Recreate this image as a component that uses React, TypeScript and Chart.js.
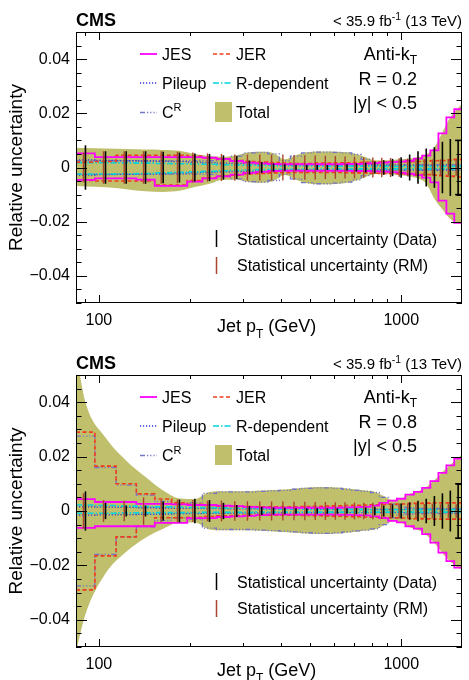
import React, { useEffect, useRef } from "react";
import { Chart, registerables } from "chart.js";

Chart.register(...registerables);

const FONT = "'Liberation Sans', Arial, Helvetica, sans-serif";
Chart.defaults.font.family = FONT;
Chart.defaults.color = "#000";

// ---------- binning / axes ----------
const BIN_EDGES = [84, 97, 114, 133, 153, 174, 196, 220, 245, 272, 300, 330, 362, 395, 430, 468, 507, 548, 592, 638, 686, 737, 790, 846, 905, 967, 1032, 1101, 1172, 1248, 1327, 1410, 1497, 1588];
const X_TICKS = [90, 100, 200, 300, 400, 500, 600, 700, 800, 900, 1000];
const X_LABELED = [100, 1000];
const Y_MIN = -0.05;
const Y_MAX = 0.05;
const Y_STEP = 0.005;

// ---------- R = 0.2 ----------
const JES_UP_R02 = [0.0052, 0.0038, 0.0038, 0.0038, 0.0038, 0.0038, 0.0038, 0.0036, 0.0032, 0.0024, 0.0018, 0.0015, 0.0013, 0.0012, 0.0012, 0.0012, 0.0012, 0.0012, 0.0012, 0.0013, 0.0013, 0.0014, 0.0016, 0.0018, 0.002, 0.0022, 0.0025, 0.0033, 0.0044, 0.0063, 0.0126, 0.0185, 0.0215];
const JES_DN_R02 = [-0.0046, -0.004, -0.004, -0.0045, -0.0068, -0.0068, -0.0052, -0.004, -0.0033, -0.0026, -0.002, -0.0016, -0.0013, -0.0012, -0.0012, -0.0012, -0.0012, -0.0012, -0.0012, -0.0012, -0.0013, -0.0013, -0.0014, -0.0015, -0.0017, -0.0019, -0.0023, -0.0028, -0.0037, -0.0055, -0.0122, -0.017, -0.0204];
const JER_UP_R02 = [0.002, 0.0022, 0.0045, 0.0045, 0.0045, 0.0045, 0.0042, 0.0036, 0.003, 0.0026, 0.0022, 0.002, 0.0018, 0.0016, 0.0015, 0.0015, 0.0016, 0.0016, 0.0017, 0.0017, 0.0018, 0.0019, 0.002, 0.002, 0.002, 0.0021, 0.0021, 0.0022, 0.0023, 0.0025, 0.0026, 0.0028, 0.003];
const JER_DN_R02 = [-0.0048, -0.005, -0.005, -0.005, -0.0065, -0.0065, -0.0048, -0.0038, -0.0032, -0.0028, -0.0024, -0.0022, -0.002, -0.0019, -0.0018, -0.0018, -0.0018, -0.0018, -0.0018, -0.0019, -0.002, -0.002, -0.0021, -0.0022, -0.0022, -0.0023, -0.0024, -0.0025, -0.0026, -0.0028, -0.003, -0.0032, -0.0035];
const PU_UP_R02 = [0.0028, 0.0026, 0.0025, 0.0024, 0.0023, 0.0022, 0.002, 0.0018, 0.0016, 0.0015, 0.0014, 0.0013, 0.0012, 0.0011, 0.001, 0.001, 0.001, 0.001, 0.001, 0.001, 0.001, 0.001, 0.0009, 0.0009, 0.0009, 0.0009, 0.0009, 0.0009, 0.0009, 0.0009, 0.0009, 0.0009, 0.0009];
const PU_DN_R02 = [-0.0028, -0.0026, -0.0025, -0.0024, -0.0023, -0.0022, -0.002, -0.0018, -0.0016, -0.0015, -0.0014, -0.0013, -0.0012, -0.0011, -0.001, -0.001, -0.001, -0.001, -0.001, -0.001, -0.001, -0.001, -0.0009, -0.0009, -0.0009, -0.0009, -0.0009, -0.0009, -0.0009, -0.0009, -0.0009, -0.0009, -0.0009];
const RDEP_UP_R02 = [0.0018, 0.0018, 0.0017, 0.0016, 0.0015, 0.0014, 0.0013, 0.0012, 0.001, 0.0009, 0.0008, 0.0007, 0.0007, 0.0006, 0.0006, 0.0006, 0.0005, 0.0005, 0.0005, 0.0005, 0.0005, 0.0005, 0.0004, 0.0004, 0.0004, 0.0004, 0.0004, 0.0004, 0.0004, 0.0004, 0.0004, 0.0004, 0.0004];
const RDEP_DN_R02 = [-0.0024, -0.0024, -0.0023, -0.0022, -0.002, -0.0018, -0.0016, -0.0014, -0.0012, -0.001, -0.0009, -0.0008, -0.0008, -0.0007, -0.0007, -0.0007, -0.0006, -0.0006, -0.0006, -0.0006, -0.0005, -0.0005, -0.0005, -0.0005, -0.0005, -0.0005, -0.0005, -0.0005, -0.0005, -0.0005, -0.0005, -0.0005, -0.0005];
const CR_UP_R02 = [0.0025, 0.0025, 0.0025, 0.0025, 0.0025, 0.0025, 0.0025, 0.0025, 0.003, 0.0042, 0.0054, 0.0056, 0.005, 0.0025, 0.0042, 0.0054, 0.0057, 0.0057, 0.0056, 0.0054, 0.0048, 0.003, 0.0012, 0.001, 0.001, 0.001, 0.001, 0.001, 0.001, 0.001, 0.001, 0.001, 0.001];
const CR_DN_R02 = [-0.0025, -0.0025, -0.0025, -0.0025, -0.0025, -0.0025, -0.0025, -0.0025, -0.003, -0.0042, -0.0052, -0.0054, -0.0048, -0.0025, -0.0042, -0.0056, -0.006, -0.006, -0.0058, -0.0054, -0.0046, -0.003, -0.0012, -0.001, -0.001, -0.001, -0.001, -0.001, -0.001, -0.001, -0.001, -0.001, -0.001];
// total band: left edge, 33 bin centres, right edge
const TOTAL_UP_R02 = [0.0073, 0.0072, 0.007, 0.0068, 0.0066, 0.0065, 0.0062, 0.005, 0.0042, 0.0039, 0.0045, 0.0056, 0.0058, 0.0053, 0.003, 0.0045, 0.0056, 0.0059, 0.0059, 0.0058, 0.0056, 0.005, 0.0038, 0.0027, 0.0026, 0.0028, 0.003, 0.0033, 0.0038, 0.0048, 0.0075, 0.013, 0.0185, 0.022, 0.0235];
const TOTAL_DN_R02 = [-0.0068, -0.007, -0.0073, -0.008, -0.0088, -0.009, -0.0086, -0.0072, -0.006, -0.0045, -0.0045, -0.0054, -0.0056, -0.005, -0.0028, -0.0045, -0.0058, -0.0062, -0.0062, -0.006, -0.0056, -0.0048, -0.0035, -0.0025, -0.0025, -0.0026, -0.0029, -0.0033, -0.004, -0.006, -0.0115, -0.0155, -0.019, -0.0205, -0.021];
const STAT_DATA_R02 = [0.0082, 0.006, 0.006, 0.006, 0.0058, 0.0055, 0.0052, 0.005, 0.0045, 0.0042, 0.0026, 0.002, 0.0015, 0.0012, 0.001, 0.0009, 0.0009, 0.0009, 0.001, 0.0012, 0.0015, 0.0018, 0.0022, 0.0027, 0.0032, 0.0038, 0.0048, 0.006, 0.007, 0.0075, 0.0095, 0.0105, 0.01];
const STAT_RM_R02 = [0.0055, 0.006, 0.006, 0.006, 0.006, 0.0058, 0.0055, 0.0052, 0.005, 0.0048, 0.0048, 0.0048, 0.0048, 0.0048, 0.0046, 0.0045, 0.0044, 0.0043, 0.0042, 0.0041, 0.004, 0.0038, 0.0037, 0.0036, 0.0035, 0.0034, 0.0033, 0.0032, 0.0031, 0.003, 0.003, 0.003, 0.003];

// ---------- R = 0.8 ----------
const JES_UP_R08 = [0.0044, 0.0033, 0.0033, 0.0026, 0.0026, 0.0024, 0.0022, 0.0022, 0.002, 0.0018, 0.0015, 0.0013, 0.0012, 0.0012, 0.0012, 0.0012, 0.0012, 0.0012, 0.0012, 0.0013, 0.0014, 0.0015, 0.002, 0.003, 0.0038, 0.0045, 0.006, 0.007, 0.0085, 0.011, 0.014, 0.0168, 0.0193];
const JES_DN_R08 = [-0.0062, -0.0056, -0.0056, -0.0056, -0.0044, -0.0044, -0.0026, -0.0026, -0.0022, -0.002, -0.0018, -0.0015, -0.0013, -0.0013, -0.0013, -0.0013, -0.0013, -0.0013, -0.0013, -0.0014, -0.0015, -0.0016, -0.002, -0.0026, -0.0036, -0.0042, -0.0056, -0.0065, -0.0085, -0.0116, -0.0153, -0.0184, -0.0208];
const JER_UP_R08 = [0.029, 0.0165, 0.01, 0.0063, 0.0044, 0.003, 0.0025, 0.002, 0.0018, 0.0017, 0.0016, 0.0015, 0.0015, 0.0015, 0.0015, 0.0016, 0.0017, 0.0018, 0.0019, 0.002, 0.0021, 0.0022, 0.0023, 0.0024, 0.0025, 0.0026, 0.0027, 0.0028, 0.0029, 0.003, 0.003, 0.003, 0.003];
const JER_DN_R08 = [-0.029, -0.0165, -0.0095, -0.0055, -0.0025, -0.0025, -0.0023, -0.002, -0.0018, -0.0017, -0.0016, -0.0015, -0.0015, -0.0015, -0.0015, -0.0016, -0.0017, -0.0018, -0.0019, -0.002, -0.0021, -0.0022, -0.0023, -0.0024, -0.0025, -0.0026, -0.0027, -0.0028, -0.0029, -0.003, -0.003, -0.003, -0.003];
const PU_UP_R08 = [0.0015, 0.0014, 0.0013, 0.0012, 0.0011, 0.001, 0.001, 0.0009, 0.0009, 0.0008, 0.0008, 0.0008, 0.0007, 0.0007, 0.0007, 0.0007, 0.0007, 0.0007, 0.0006, 0.0006, 0.0006, 0.0006, 0.0006, 0.0006, 0.0006, 0.0006, 0.0006, 0.0006, 0.0006, 0.0006, 0.0006, 0.0006, 0.0006];
const PU_DN_R08 = [-0.0015, -0.0014, -0.0013, -0.0012, -0.0011, -0.001, -0.001, -0.0009, -0.0009, -0.0008, -0.0008, -0.0008, -0.0007, -0.0007, -0.0007, -0.0007, -0.0007, -0.0007, -0.0006, -0.0006, -0.0006, -0.0006, -0.0006, -0.0006, -0.0006, -0.0006, -0.0006, -0.0006, -0.0006, -0.0006, -0.0006, -0.0006, -0.0006];
const RDEP_UP_R08 = [0.0022, 0.002, 0.0018, 0.0016, 0.0015, 0.0014, 0.0013, 0.0012, 0.0011, 0.001, 0.0009, 0.0008, 0.0008, 0.0007, 0.0007, 0.0007, 0.0006, 0.0006, 0.0006, 0.0006, 0.0006, 0.0005, 0.0005, 0.0005, 0.0005, 0.0005, 0.0005, 0.0005, 0.0005, 0.0005, 0.0005, 0.0005, 0.0005];
const RDEP_DN_R08 = [-0.0008, -0.0008, -0.0007, -0.0007, -0.0006, -0.0006, -0.0006, -0.0005, -0.0005, -0.0005, -0.0005, -0.0004, -0.0004, -0.0004, -0.0004, -0.0004, -0.0004, -0.0004, -0.0004, -0.0004, -0.0004, -0.0004, -0.0004, -0.0004, -0.0004, -0.0004, -0.0004, -0.0004, -0.0004, -0.0004, -0.0004, -0.0004, -0.0004];
const CR_UP_R08 = [0.0275, 0.016, 0.0095, 0.0058, 0.0035, 0.0025, 0.003, 0.0065, 0.007, 0.007, 0.007, 0.0072, 0.0074, 0.0076, 0.008, 0.0083, 0.0085, 0.0085, 0.0083, 0.008, 0.0076, 0.0072, 0.0068, 0.005, 0.0025, 0.0015, 0.0012, 0.001, 0.001, 0.001, 0.001, 0.001, 0.001];
const CR_DN_R08 = [-0.0275, -0.016, -0.0095, -0.0058, -0.0035, -0.0025, -0.003, -0.0063, -0.0068, -0.0068, -0.0068, -0.007, -0.0072, -0.0074, -0.0077, -0.008, -0.0082, -0.0082, -0.008, -0.0077, -0.0073, -0.007, -0.0066, -0.005, -0.0025, -0.0015, -0.0012, -0.001, -0.001, -0.001, -0.001, -0.001, -0.001];
const TOTAL_UP_R08 = [0.058, 0.04, 0.027, 0.0185, 0.0125, 0.0075, 0.0046, 0.0044, 0.007, 0.0073, 0.0073, 0.0073, 0.0075, 0.0077, 0.0079, 0.0083, 0.0086, 0.0088, 0.0088, 0.0086, 0.0083, 0.0079, 0.0075, 0.007, 0.0055, 0.004, 0.0045, 0.0063, 0.0072, 0.0088, 0.0113, 0.0143, 0.017, 0.0195, 0.021];
const TOTAL_DN_R08 = [-0.052, -0.038, -0.023, -0.015, -0.0098, -0.0065, -0.0042, -0.0042, -0.0068, -0.0071, -0.0071, -0.0071, -0.0073, -0.0075, -0.0077, -0.008, -0.0083, -0.0085, -0.0085, -0.0083, -0.008, -0.0076, -0.0072, -0.0068, -0.0053, -0.0038, -0.0043, -0.006, -0.007, -0.0088, -0.0118, -0.0155, -0.0186, -0.021, -0.0215];
const STAT_DATA_R08 = [0.0072, 0.003, 0.002, 0.002, 0.0035, 0.0042, 0.0045, 0.004, 0.003, 0.0022, 0.0018, 0.0015, 0.0013, 0.0012, 0.001, 0.001, 0.001, 0.001, 0.001, 0.001, 0.0011, 0.0013, 0.0016, 0.002, 0.0024, 0.0028, 0.0032, 0.0038, 0.0045, 0.0055, 0.0065, 0.0075, 0.01];
const STAT_RM_R08 = [0.0065, 0.004, 0.0038, 0.005, 0.004, 0.0042, 0.004, 0.0038, 0.0038, 0.0036, 0.0036, 0.0035, 0.0035, 0.0035, 0.0034, 0.0034, 0.0033, 0.0033, 0.0032, 0.0032, 0.0031, 0.003, 0.003, 0.0029, 0.0028, 0.0028, 0.0027, 0.0027, 0.0026, 0.0026, 0.0025, 0.0025, 0.0025];

// ---------- style ----------
const COLORS = {
  jes: "#ff00ff",
  jer: "#f03c1e",
  pu: "#3434d4",
  rdep: "#00d4dc",
  cr: "#7474c4",
  total: "rgb(191,191,108)",
  data: "#000000",
  rm: "#a8452c",
};
const DASH = {
  jes: [] as number[],
  jer: [4, 2.5],
  pu: [1.2, 1.8],
  rdep: [6, 2, 1.5, 2],
  cr: [5, 2, 1.2, 2, 1.2, 2, 1.2, 2],
};
const WIDTH = { jes: 1.8, jer: 1.6, pu: 1.3, rdep: 1.6, cr: 1.3 };
const RM_SHIFT = 0.985;

const BIN_CENTERS = BIN_EDGES.slice(0, -1).map((lo, i) => Math.sqrt(lo * BIN_EDGES[i + 1]));
const BAND_X = [BIN_EDGES[0], ...BIN_CENTERS, BIN_EDGES[BIN_EDGES.length - 1]];

type Pt = { x: number; y: number };
function stepPoints(vals: number[]): Pt[] {
  const pts: Pt[] = [];
  vals.forEach((v, i) => {
    pts.push({ x: BIN_EDGES[i], y: v });
    pts.push({ x: BIN_EDGES[i + 1], y: v });
  });
  return pts;
}
function bandPoints(vals: number[]): Pt[] {
  return vals.map((v, i) => ({ x: BAND_X[i], y: v }));
}

const PANELS = [
  {
    key: "r02", radius: "R = 0.2", top: 0, height: 343, plotBottom: 303,
    jes: [JES_UP_R02, JES_DN_R02], jer: [JER_UP_R02, JER_DN_R02], pu: [PU_UP_R02, PU_DN_R02],
    rdep: [RDEP_UP_R02, RDEP_DN_R02], cr: [CR_UP_R02, CR_DN_R02],
    total: [TOTAL_UP_R02, TOTAL_DN_R02], statData: STAT_DATA_R02, statRM: STAT_RM_R02,
  },
  {
    key: "r08", radius: "R = 0.8", top: 343, height: 337, plotBottom: 304,
    jes: [JES_UP_R08, JES_DN_R08], jer: [JER_UP_R08, JER_DN_R08], pu: [PU_UP_R08, PU_DN_R08],
    rdep: [RDEP_UP_R08, RDEP_DN_R08], cr: [CR_UP_R08, CR_DN_R08],
    total: [TOTAL_UP_R08, TOTAL_DN_R08], statData: STAT_DATA_R08, statRM: STAT_RM_R08,
  },
];

type Part = [string, number, number?, string?];
function rich(ctx: CanvasRenderingContext2D, parts: Part[], x: number, y: number, align: "left" | "right" | "center") {
  ctx.textAlign = "left";
  ctx.textBaseline = "alphabetic";
  const widths = parts.map(([t, size, , weight]) => {
    ctx.font = `${weight || "normal"} ${size}px ${FONT}`;
    return ctx.measureText(t).width;
  });
  const total = widths.reduce((a, b) => a + b, 0);
  let cx = align === "right" ? x - total : align === "center" ? x - total / 2 : x;
  parts.forEach(([t, size, dy, weight], i) => {
    ctx.font = `${weight || "normal"} ${size}px ${FONT}`;
    ctx.fillText(t, cx, y + (dy || 0));
    cx += widths[i];
  });
}

function legendLine(ctx: CanvasRenderingContext2D, x1: number, x2: number, y: number, key: keyof typeof DASH) {
  ctx.save();
  ctx.strokeStyle = (COLORS as any)[key];
  ctx.lineWidth = (WIDTH as any)[key];
  ctx.setLineDash(DASH[key]);
  ctx.beginPath();
  ctx.moveTo(x1, y);
  ctx.lineTo(x2, y);
  ctx.stroke();
  ctx.restore();
}

function makeDecor(p: (typeof PANELS)[number]) {
  return {
    id: "decor_" + p.key,
    afterDatasetsDraw(chart: any) {
      const { ctx, chartArea: a } = chart;
      const xs = chart.scales.x;
      const ys = chart.scales.y;
      ctx.save();
      ctx.beginPath();
      ctx.rect(a.left, a.top, a.right - a.left, a.bottom - a.top);
      ctx.clip();
      ctx.setLineDash([]);
      const bars = (vals: number[], shift: number, color: string, w: number) => {
        ctx.strokeStyle = color;
        ctx.lineWidth = w;
        vals.forEach((s, i) => {
          const px = xs.getPixelForValue(BIN_CENTERS[i] * shift);
          ctx.beginPath();
          ctx.moveTo(px, ys.getPixelForValue(-s));
          ctx.lineTo(px, ys.getPixelForValue(s));
          ctx.stroke();
        });
      };
      bars(p.statRM, RM_SHIFT, COLORS.rm, 1.4);
      bars(p.statData, 1, COLORS.data, 1.6);
      // end caps on the last data bar
      const li = p.statData.length - 1;
      const lx = xs.getPixelForValue(BIN_CENTERS[li]);
      [p.statData[li], -p.statData[li]].forEach((s) => {
        const py = ys.getPixelForValue(s);
        ctx.beginPath();
        ctx.moveTo(lx - 3, py);
        ctx.lineTo(lx + 3, py);
        ctx.stroke();
      });
      ctx.restore();
    },
    afterDraw(chart: any) {
      const { ctx, chartArea: a } = chart;
      const xs = chart.scales.x;
      const ys = chart.scales.y;
      ctx.save();
      ctx.setLineDash([]);
      ctx.strokeStyle = "#000";
      ctx.fillStyle = "#000";
      ctx.lineWidth = 1;
      // frame
      ctx.strokeRect(a.left + 0.5, a.top + 0.5, a.right - a.left - 1, a.bottom - a.top - 1);
      // y ticks (inward, both sides)
      ys.ticks.forEach((t: any) => {
        const m = Math.round(t.value * 1000);
        const len = m % 20 === 0 ? 11 : 5.5;
        const py = Math.round(ys.getPixelForValue(t.value)) + 0.5;
        ctx.beginPath();
        ctx.moveTo(a.left, py);
        ctx.lineTo(a.left + len, py);
        ctx.moveTo(a.right, py);
        ctx.lineTo(a.right - len, py);
        ctx.stroke();
      });
      // x ticks (inward, both sides)
      xs.ticks.forEach((t: any) => {
        const len = X_LABELED.includes(t.value) ? 8 : 4;
        const px = Math.round(xs.getPixelForValue(t.value)) + 0.5;
        ctx.beginPath();
        ctx.moveTo(px, a.bottom);
        ctx.lineTo(px, a.bottom - len);
        ctx.moveTo(px, a.top);
        ctx.lineTo(px, a.top + len);
        ctx.stroke();
      });

      // header
      rich(ctx, [["CMS", 18, 0, "bold"]], a.left, 26, "left");
      rich(ctx, [["< 35.9 fb", 15], ["-1", 10.5, -6], [" (13 TeV)", 15]], a.right, 26, "right");

      // legend of sources
      legendLine(ctx, 140, 157, 54, "jes");
      rich(ctx, [["JES", 16]], 162, 59.5, "left");
      legendLine(ctx, 213, 232, 54, "jer");
      rich(ctx, [["JER", 16]], 236, 59.5, "left");
      legendLine(ctx, 140, 157, 83, "pu");
      rich(ctx, [["Pileup", 16]], 162, 88.5, "left");
      legendLine(ctx, 213, 232, 83, "rdep");
      rich(ctx, [["R-dependent", 16]], 236, 88.5, "left");
      legendLine(ctx, 140, 157, 112.5, "cr");
      rich(ctx, [["C", 16], ["R", 11, -7]], 162, 118, "left");
      ctx.fillStyle = COLORS.total;
      ctx.fillRect(215, 102, 17, 20);
      ctx.fillStyle = "#000";
      rich(ctx, [["Total", 16]], 236, 118, "left");

      // jet info
      rich(ctx, [["Anti-k", 18], ["T", 12, 4]], 417, 60, "right");
      rich(ctx, [[p.radius, 18]], 417, 84.5, "right");
      rich(ctx, [["|y| < 0.5", 18]], 417, 109, "right");

      // stat legend
      ctx.lineWidth = 1.5;
      ctx.strokeStyle = COLORS.data;
      ctx.beginPath();
      ctx.moveTo(216.5, 230);
      ctx.lineTo(216.5, 247);
      ctx.stroke();
      ctx.strokeStyle = COLORS.rm;
      ctx.beginPath();
      ctx.moveTo(216.5, 257);
      ctx.lineTo(216.5, 274);
      ctx.stroke();
      rich(ctx, [["Statistical uncertainty (Data)", 16]], 237, 245, "left");
      rich(ctx, [["Statistical uncertainty (RM)", 16]], 237, 271, "left");

      // axis titles
      rich(ctx, [["Jet p", 18], ["T", 12, 6], [" (GeV)", 18]], 217, a.bottom + 29, "left");
      ctx.save();
      ctx.translate(22, (a.top + a.bottom) / 2);
      ctx.rotate(-Math.PI / 2);
      rich(ctx, [["Relative uncertainty", 19]], 0, 0, "center");
      ctx.restore();
      ctx.restore();
    },
  };
}

function lineDs(label: string, vals: number[], key: keyof typeof DASH, order: number) {
  return {
    label,
    data: stepPoints(vals),
    borderColor: (COLORS as any)[key],
    borderWidth: (WIDTH as any)[key],
    borderDash: DASH[key],
    pointRadius: 0,
    fill: false,
    tension: 0,
    order,
  };
}

const fmtY = (v: number) => {
  const m = Math.round(v * 1000);
  if (m % 20 !== 0) return "";
  if (m === 0) return "0";
  return (m < 0 ? "\u2212" : "") + (Math.abs(m) / 1000).toFixed(2);
};

function Panel({ p }: { p: (typeof PANELS)[number] }) {
  const ref = useRef<HTMLCanvasElement>(null);
  useEffect(() => {
    if (!ref.current) return;
    const datasets: any[] = [
      {
        label: "Total up",
        data: bandPoints(p.total[0]),
        borderColor: "rgba(0,0,0,0)",
        borderWidth: 1,
        backgroundColor: COLORS.total,
        fill: "+1",
        pointRadius: 0,
        cubicInterpolationMode: "monotone",
        order: 100,
      },
      {
        label: "Total down",
        data: bandPoints(p.total[1]),
        borderColor: "rgba(0,0,0,0)",
        borderWidth: 1,
        fill: false,
        pointRadius: 0,
        cubicInterpolationMode: "monotone",
        order: 100,
      },
      lineDs("CR up", p.cr[0], "cr", 6),
      lineDs("CR down", p.cr[1], "cr", 6),
      lineDs("Pileup up", p.pu[0], "pu", 5),
      lineDs("Pileup down", p.pu[1], "pu", 5),
      lineDs("R-dep up", p.rdep[0], "rdep", 4),
      lineDs("R-dep down", p.rdep[1], "rdep", 4),
      lineDs("JER up", p.jer[0], "jer", 3),
      lineDs("JER down", p.jer[1], "jer", 3),
      lineDs("JES up", p.jes[0], "jes", 2),
      lineDs("JES down", p.jes[1], "jes", 2),
    ];
    const chart = new Chart(ref.current, {
      type: "line",
      data: { datasets },
      options: {
        animation: false,
        responsive: false,
        maintainAspectRatio: false,
        events: [],
        layout: { padding: { top: 32, right: 7, left: 0, bottom: 0 } },
        plugins: { legend: { display: false }, tooltip: { enabled: false }, title: { display: false } },
        scales: {
          x: {
            type: "logarithmic",
            min: BIN_EDGES[0],
            max: BIN_EDGES[BIN_EDGES.length - 1],
            grid: { display: false, drawTicks: false },
            border: { display: false },
            afterBuildTicks: (s: any) => {
              s.ticks = X_TICKS.map((v) => ({ value: v }));
            },
            ticks: {
              autoSkip: false,
              maxRotation: 0,
              padding: 8,
              color: "#000",
              font: { size: 16, family: FONT },
              callback: (v: any) => (X_LABELED.includes(Number(v)) ? String(v) : ""),
            },
            afterFit: (s: any) => {
              s.height = p.height - p.plotBottom;
            },
          },
          y: {
            type: "linear",
            min: Y_MIN,
            max: Y_MAX,
            grid: { display: false, drawTicks: false },
            border: { display: false },
            ticks: {
              stepSize: Y_STEP,
              autoSkip: false,
              maxTicksLimit: 100,
              padding: 6,
              color: "#000",
              font: { size: 16, family: FONT },
              callback: (v: any) => fmtY(Number(v)),
            },
            afterFit: (s: any) => {
              s.width = 76;
            },
          },
        },
      } as any,
      plugins: [makeDecor(p)],
    });
    return () => chart.destroy();
  }, []);
  return (
    <canvas
      ref={ref}
      width={469}
      height={p.height}
      style={{ position: "absolute", left: 0, top: p.top, width: 469, height: p.height, display: "block" }}
    />
  );
}

export default function App() {
  return (
    <div style={{ position: "absolute", left: 0, top: 0, width: 469, height: 680, overflow: "hidden", background: "#fff" }}>
      {PANELS.map((p) => (
        <Panel key={p.key} p={p} />
      ))}
    </div>
  );
}
